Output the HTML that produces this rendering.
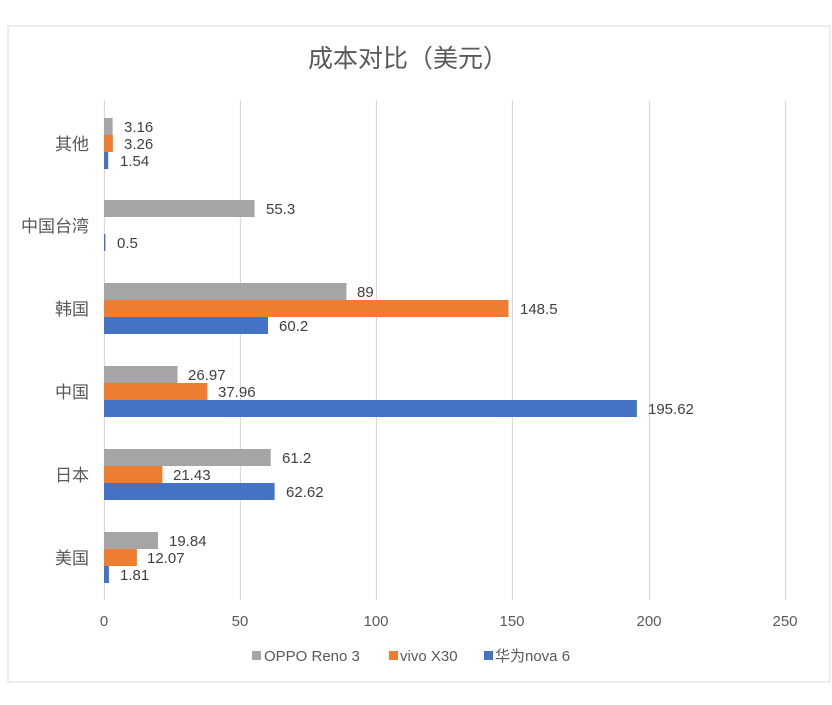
<!DOCTYPE html><html><head><meta charset="utf-8"><style>body{margin:0;background:#fff}</style></head><body>
<svg width="832" height="700" xmlns="http://www.w3.org/2000/svg" font-family="Liberation Sans, Noto Sans CJK SC, sans-serif">
<rect x="8" y="26" width="822" height="656" fill="#fff" stroke="#d9d9d9"/>
<text x="408" y="67" font-size="25" fill="#595959" text-anchor="middle">成本对比（美元）</text>
<g stroke="#d9d9d9" stroke-width="1.2">
<line x1="104.5" y1="100" x2="104.5" y2="600"/><line x1="240.5" y1="100" x2="240.5" y2="600"/><line x1="376.5" y1="100" x2="376.5" y2="600"/><line x1="512.5" y1="100" x2="512.5" y2="600"/><line x1="649.5" y1="100" x2="649.5" y2="600"/><line x1="785.5" y1="100" x2="785.5" y2="600"/>
</g>
<g font-size="15" fill="#595959" text-anchor="middle">
<text x="104" y="626">0</text><text x="240" y="626">50</text><text x="376" y="626">100</text><text x="512" y="626">150</text><text x="649" y="626">200</text><text x="785" y="626">250</text>
</g>
<g font-size="17" fill="#595959" text-anchor="end">
<text x="89" y="150">其他</text><text x="89" y="232">中国台湾</text><text x="89" y="315">韩国</text><text x="89" y="398">中国</text><text x="89" y="481">日本</text><text x="89" y="564">美国</text>
</g>
<g>
<rect x="104" y="118" width="8.6" height="17" fill="#a5a5a5"/><rect x="104" y="135" width="8.9" height="17" fill="#ed7d31"/><rect x="104" y="152" width="4.2" height="17" fill="#4472c4"/>
<rect x="104" y="200" width="150.6" height="17" fill="#a5a5a5"/><rect x="104" y="234" width="1.4" height="17" fill="#4472c4"/>
<rect x="104" y="283" width="242.4" height="17" fill="#a5a5a5"/><rect x="104" y="300" width="404.5" height="17" fill="#ed7d31"/><rect x="104" y="317" width="164" height="17" fill="#4472c4"/>
<rect x="104" y="366" width="73.5" height="17" fill="#a5a5a5"/><rect x="104" y="383" width="103.4" height="17" fill="#ed7d31"/><rect x="104" y="400" width="532.9" height="17" fill="#4472c4"/>
<rect x="104" y="449" width="166.7" height="17" fill="#a5a5a5"/><rect x="104" y="466" width="58.4" height="17" fill="#ed7d31"/><rect x="104" y="483" width="170.6" height="17" fill="#4472c4"/>
<rect x="104" y="532" width="54" height="17" fill="#a5a5a5"/><rect x="104" y="549" width="32.9" height="17" fill="#ed7d31"/><rect x="104" y="566" width="4.9" height="17" fill="#4472c4"/>
</g>
<g font-size="15" fill="#404040">
<text x="124" y="132">3.16</text><text x="124" y="149">3.26</text><text x="120" y="166">1.54</text>
<text x="266" y="214">55.3</text><text x="117" y="248">0.5</text>
<text x="357" y="297">89</text><text x="520" y="314">148.5</text><text x="279" y="331">60.2</text>
<text x="188" y="380">26.97</text><text x="218" y="397">37.96</text><text x="648" y="414">195.62</text>
<text x="282" y="463">61.2</text><text x="173" y="480">21.43</text><text x="286" y="497">62.62</text>
<text x="169" y="546">19.84</text><text x="147" y="563">12.07</text><text x="120" y="580">1.81</text>
</g>
<g font-size="15" fill="#595959">
<rect x="252" y="651" width="9" height="9" fill="#a5a5a5"/><text x="264" y="661">OPPO Reno 3</text>
<rect x="389" y="651" width="9" height="9" fill="#ed7d31"/><text x="400" y="661">vivo X30</text>
<rect x="484" y="651" width="9" height="9" fill="#4472c4"/><text x="495" y="661">华为nova 6</text>
</g>
</svg></body></html>
